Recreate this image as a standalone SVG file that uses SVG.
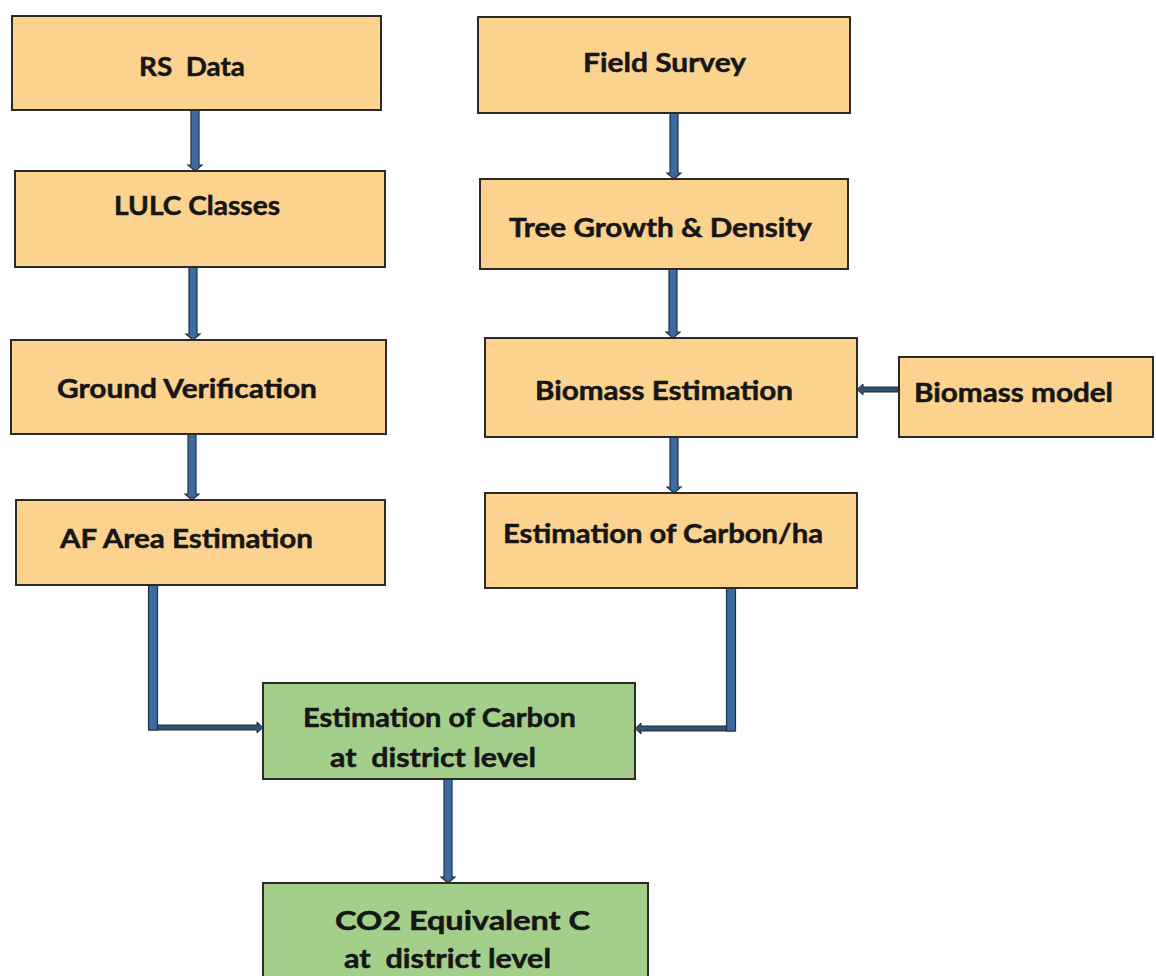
<svg xmlns="http://www.w3.org/2000/svg" width="1156" height="976" viewBox="0 0 1156 976">
  <style>
    .box { fill: #fbd38f; stroke: #2a2a2a; stroke-width: 2; }
    .green { fill: #a3cf8b; stroke: #2a2a2a; stroke-width: 2; }
    .lbl { font-family: Lato, "Open Sans", sans-serif; font-weight: bold; font-size: 27px; fill: #161616; stroke: #161616; stroke-width: 0.5; white-space: pre; }
    .shaft { fill: #3e6b9f; stroke: #1f2f45; stroke-width: 1.2; }
    .thin { fill: #33506f; stroke: #1c2a3c; stroke-width: 1; }
  </style>
  <rect width="1156" height="976" fill="#ffffff"/>

  <g id="connectors">
    <!-- vertical block arrows -->
    <polygon class="shaft" points="191,110 199,110 199,165 202,165 195,171 188,165 191,165"/>
    <polygon class="shaft" points="189,267 197,267 197,334 200,334 193,340 186,334 189,334"/>
    <polygon class="shaft" points="188,434 196,434 196,494 199,494 192,500 185,494 188,494"/>
    <polygon class="shaft" points="670,113 678,113 678,173 681,173 674,179 667,173 670,173"/>
    <polygon class="shaft" points="669,269 677,269 677,332 680,332 673,338 666,332 669,332"/>
    <polygon class="shaft" points="670,437 678,437 678,487 681,487 674,493 667,487 670,487"/>
    <polygon class="shaft" points="444,779 452,779 452,877 455,877 448,883 441,877 444,877"/>
    <!-- elbow from AF Area Estimation -->
    <polygon class="thin" points="149,725 257,725 257,722 263,727.5 257,733 257,730 149,730"/>
    <polygon class="shaft" points="148.5,585 157.5,585 157.5,730 148.5,730"/>
    <!-- elbow from Estimation of Carbon/ha -->
    <polygon class="thin" points="735,726 641,726 641,723 635,728.5 641,734 641,731 735,731"/>
    <polygon class="shaft" points="726.5,588 735.5,588 735.5,731 726.5,731"/>
    <!-- Biomass model into Biomass Estimation -->
    <polygon class="thin" points="899,387 863,387 863,384 857,389.5 863,395 863,392 899,392"/>
  </g>

  <g id="rs-data">
    <rect class="box" x="12" y="16" width="369" height="94"/>
    <text class="lbl" x="139" y="76" textLength="106" lengthAdjust="spacingAndGlyphs">RS  Data</text>
  </g>
  <g id="lulc-classes">
    <rect class="box" x="15" y="171" width="370" height="96"/>
    <text class="lbl" x="114" y="215" textLength="166" lengthAdjust="spacingAndGlyphs">LULC Classes</text>
  </g>
  <g id="ground-verification">
    <rect class="box" x="11" y="340" width="375" height="94"/>
    <text class="lbl" x="57" y="398" textLength="260" lengthAdjust="spacingAndGlyphs">Ground Verification</text>
  </g>
  <g id="af-area-estimation">
    <rect class="box" x="16" y="500" width="369" height="85"/>
    <text class="lbl" x="60" y="548" textLength="253" lengthAdjust="spacingAndGlyphs">AF Area Estimation</text>
  </g>
  <g id="field-survey">
    <rect class="box" x="478" y="17" width="372" height="96"/>
    <text class="lbl" x="583" y="72" textLength="163" lengthAdjust="spacingAndGlyphs">Field Survey</text>
  </g>
  <g id="tree-growth">
    <rect class="box" x="480" y="179" width="368" height="90"/>
    <text class="lbl" x="509" y="237" textLength="303" lengthAdjust="spacingAndGlyphs">Tree Growth &amp; Density</text>
  </g>
  <g id="biomass-estimation">
    <rect class="box" x="485" y="338" width="372" height="99"/>
    <text class="lbl" x="535" y="400" textLength="258" lengthAdjust="spacingAndGlyphs">Biomass Estimation</text>
  </g>
  <g id="biomass-model">
    <rect class="box" x="899" y="357" width="254" height="80"/>
    <text class="lbl" x="914" y="402" textLength="199" lengthAdjust="spacingAndGlyphs">Biomass model</text>
  </g>
  <g id="carbon-per-ha">
    <rect class="box" x="485" y="493" width="372" height="95"/>
    <text class="lbl" x="503" y="543" textLength="320" lengthAdjust="spacingAndGlyphs">Estimation of Carbon/ha</text>
  </g>
  <g id="carbon-district">
    <rect class="green" x="263" y="683" width="372" height="96"/>
    <text class="lbl" x="303" y="727" textLength="273" lengthAdjust="spacingAndGlyphs">Estimation of Carbon</text>
    <text class="lbl" x="330" y="767" textLength="206" lengthAdjust="spacingAndGlyphs">at  district level</text>
  </g>
  <g id="co2-equivalent">
    <rect class="green" x="263" y="883" width="385" height="104"/>
    <text class="lbl" x="335" y="930" textLength="255" lengthAdjust="spacingAndGlyphs">CO2 Equivalent C</text>
    <text class="lbl" x="344" y="968" textLength="207" lengthAdjust="spacingAndGlyphs">at  district level</text>
  </g>
</svg>
